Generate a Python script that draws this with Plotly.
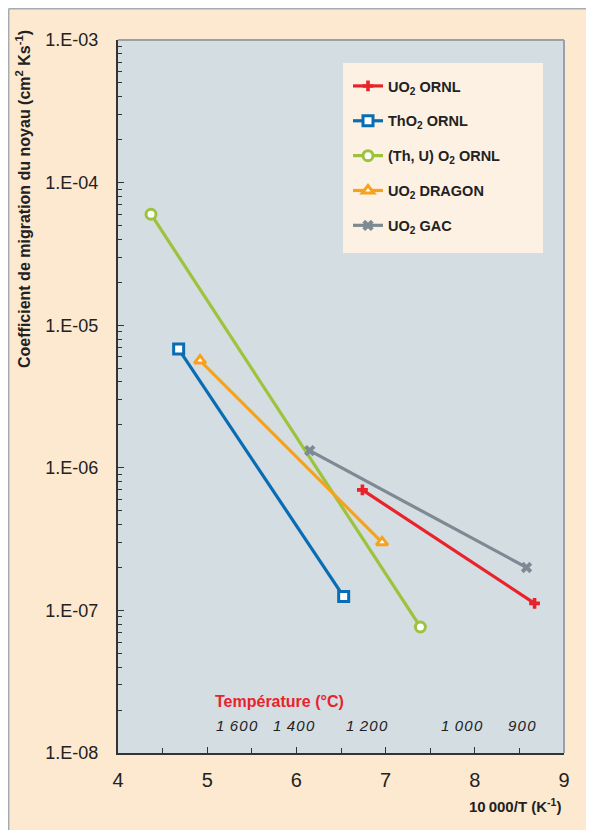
import plotly.graph_objects as go

# ---- data ----
uo2_ornl_x = [6.74, 8.67]
uo2_ornl_y = [7.0e-7, 1.12e-7]
tho2_ornl_x = [4.68, 6.53]
tho2_ornl_y = [6.8e-6, 1.25e-7]
thu_ornl_x = [4.37, 7.39]
thu_ornl_y = [6.0e-5, 7.65e-8]
uo2_dragon_x = [4.92, 6.96]
uo2_dragon_y = [5.65e-6, 3.0e-7]
uo2_gac_x = [6.15, 8.58]
uo2_gac_y = [1.32e-6, 2.0e-7]

y_tickvals = [1e-3, 1e-4, 1e-5, 1e-6, 1e-7, 1e-8]
y_ticktext = ["1.E-03", "1.E-04", "1.E-05", "1.E-06", "1.E-07", "1.E-08"]
x_tickvals = [4, 5, 6, 7, 8, 9]
temps_c = [1600, 1400, 1200, 1000, 900]
temp_labels = ["1 \u200a6\u200a0\u200a0", "1 \u200a4\u200a0\u200a0", "1 \u200a2\u200a0\u200a0",
               "1 \u200a0\u200a0\u200a0", "9\u200a0\u200a0"]

FONT = "Arial, Liberation Sans, Helvetica, sans-serif"
BEIGE = "#fde9d0"
PLOTBG = "#d4dde2"

# figure placed at an 8px page offset; helpers convert screen px -> paper coords
OFF = 8
W, H = 586, 822
L, R, T, B = 110, 30, 32, 77
pw, ph = W - L - R, H - T - B


def px2paper_x(sx):
    return (sx - OFF - L) / pw


def px2paper_y(sy):
    return (H - B - (sy - OFF)) / ph


series = [
    ("<b>UO<sub>2</sub> ORNL</b>", uo2_ornl_x, uo2_ornl_y, "#e8232b",
     dict(symbol="cross", size=9, color="#e8232b", line=dict(width=0))),
    ("<b>ThO<sub>2</sub> ORNL</b>", tho2_ornl_x, tho2_ornl_y, "#0a6db3",
     dict(symbol="square", size=10, color="white", line=dict(color="#0a6db3", width=3))),
    ("<b>(Th, U) O<sub>2</sub> ORNL</b>", thu_ornl_x, thu_ornl_y, "#9cc33b",
     dict(symbol="circle", size=10, color="white", line=dict(color="#9cc33b", width=3))),
    ("<b>UO<sub>2</sub> DRAGON</b>", uo2_dragon_x, uo2_dragon_y, "#f6a21d",
     dict(symbol="triangle-up", size=10, color="white", line=dict(color="#f6a21d", width=3))),
    ("<b>UO<sub>2</sub> GAC</b>", uo2_gac_x, uo2_gac_y, "#7d8a93",
     dict(symbol="x", size=10, color="#7d8a93", line=dict(width=0))),
]

fig = go.Figure()
for i, (name, xs, ys, col, mk) in enumerate(series):
    fig.add_trace(go.Scatter(
        x=xs, y=ys, mode="lines+markers", name=name,
        line=dict(color=col, width=3.2), marker=mk,
        legendgroup=f"g{i}",
    ))

annotations = [
    dict(text="<b>Coefficient de migration du noyau (cm<sup>2</sup> Ks<sup>-1</sup>)</b>",
         xref="paper", yref="paper", x=px2paper_x(23), y=px2paper_y(199),
         xanchor="center", yanchor="middle",
         textangle=-90, showarrow=False, font=dict(size=16, color="#222", family=FONT)),
    dict(text="<b>10\u2009000/T (K<sup>-1</sup>)</b>",
         xref="paper", yref="paper", x=px2paper_x(563), y=px2paper_y(806),
         xanchor="right", yanchor="middle", showarrow=False,
         font=dict(size=15, color="#222", family=FONT)),
    dict(text="<b>Température (°C)</b>", xref="paper", yref="paper",
         x=px2paper_x(213), y=px2paper_y(701), xanchor="left", yanchor="middle",
         showarrow=False, font=dict(size=16, color="#e8232b", family=FONT)),
]
for tc, lab in zip(temps_c, temp_labels):
    annotations.append(dict(
        text=f"<i>{lab}</i>", xref="x", yref="paper", x=10000 / (tc + 273.15),
        y=px2paper_y(725), xanchor="center", yanchor="middle", showarrow=False,
        font=dict(size=15, color="#222", family=FONT)))

shapes = [
    # legend box
    dict(type="rect", xref="paper", yref="paper", layer="below",
         x0=px2paper_x(343), x1=px2paper_x(543), y0=px2paper_y(253), y1=px2paper_y(63),
         fillcolor="#fdf1e3", line=dict(width=0)),
    # top and right frame of plot area
    dict(type="line", xref="paper", yref="paper", x0=0, x1=1, y0=1, y1=1,
         line=dict(color="#9aa2a8", width=2)),
    dict(type="line", xref="paper", yref="paper", x0=1, x1=1, y0=0, y1=1,
         line=dict(color="#9aa2a8", width=2)),
    # outer border (top / left)
    dict(type="line", xref="paper", yref="paper", x0=px2paper_x(8.7), x1=px2paper_x(600),
         y0=px2paper_y(8.7), y1=px2paper_y(8.7), line=dict(color="#a3abb3", width=1.5)),
    dict(type="line", xref="paper", yref="paper", x0=px2paper_x(8.7), x1=px2paper_x(8.7),
         y0=px2paper_y(840), y1=px2paper_y(8.7), line=dict(color="#a3abb3", width=1.5)),
]

fig.update_layout(
    width=W, height=H,
    margin=dict(l=L, r=R, t=T, b=B, pad=0),
    paper_bgcolor=BEIGE, plot_bgcolor=PLOTBG,
    font=dict(family=FONT, color="#222"),
    showlegend=True,
    legend=dict(x=px2paper_x(348), y=px2paper_y(70), xanchor="left", yanchor="top",
                bgcolor="rgba(0,0,0,0)", font=dict(size=14.5, family=FONT, color="#222"),
                traceorder="grouped", tracegroupgap=13, itemwidth=30),
    annotations=annotations, shapes=shapes,
)

fig.update_xaxes(
    range=[4, 9], tickvals=x_tickvals, showgrid=False, zeroline=False,
    showline=True, linecolor="#333", linewidth=2,
    ticks="inside", ticklen=6, tickwidth=1.2, tickcolor="#333",
    tickfont=dict(size=20, family=FONT, color="#222"), ticklabelstandoff=8,
    minor=dict(dtick=0.5, ticks="inside", ticklen=5, tickwidth=1.2, tickcolor="#333", showgrid=False),
)
fig.update_yaxes(
    type="log", range=[-8, -3], tickvals=y_tickvals, ticktext=y_ticktext,
    showgrid=False, zeroline=False, showline=True, linecolor="#333", linewidth=2,
    ticks="inside", ticklen=6, tickwidth=1.2, tickcolor="#333",
    tickfont=dict(size=18, family=FONT, color="#222"), ticklabelstandoff=14,
    minor=dict(dtick="D1", ticks="inside", ticklen=4, tickwidth=1, tickcolor="#333", showgrid=False),
)

fig.write_html("out.html")
